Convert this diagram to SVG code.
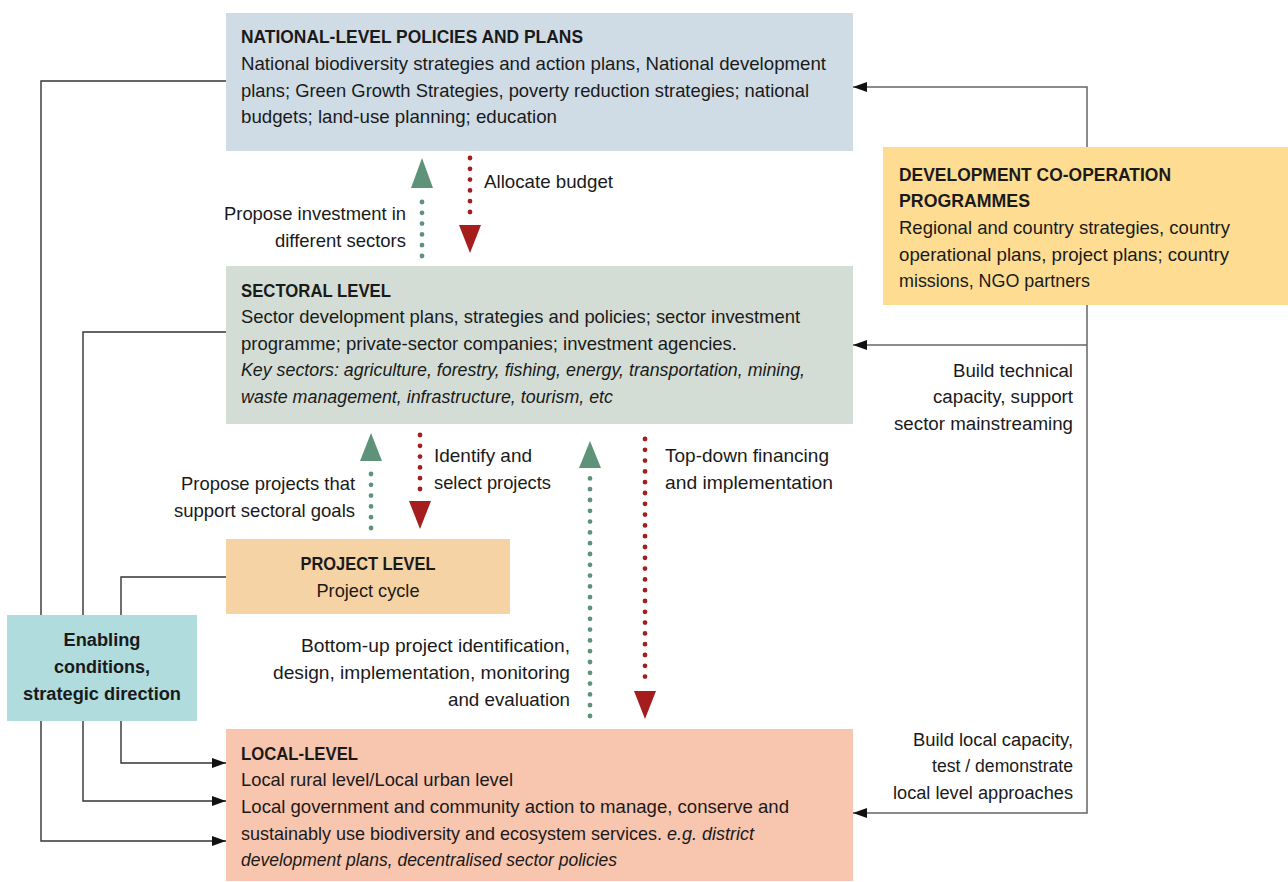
<svg xmlns="http://www.w3.org/2000/svg" width="1288" height="882" viewBox="0 0 1288 882">
<style>
text{font-family:"Liberation Sans Narrow","Liberation Sans",Arial,sans-serif;font-size:18.5px;fill:#1a1a1a}
.b{font-weight:bold}
.i{font-style:italic}
.r{font-family:"Liberation Sans",Arial,sans-serif;font-size:18px}
.e{text-anchor:end}
.m{text-anchor:middle}
.ln{fill:none;stroke:#333;stroke-width:1.4}
.lg{fill:none;stroke:#666;stroke-width:1.5}
.dg{stroke:#5e937a;stroke-width:4.8;stroke-linecap:round;stroke-dasharray:0 10.8}
.dr{stroke:#a51d1d;stroke-width:4.8;stroke-linecap:round;stroke-dasharray:0 10.8}
.hg{fill:#5e937a}
.hr{fill:#a51d1d}
</style>
<defs>
<marker id="ah" viewBox="0 0 14 10" refX="14" refY="5" markerWidth="14" markerHeight="10" markerUnits="userSpaceOnUse" orient="auto"><path d="M0,0 L14,5 L0,10 z" fill="#111"/></marker>
</defs>
<rect width="1288" height="882" fill="#fff"/>
<g id="connectors">
<path class="ln" d="M226,81 H41 V841 H226" marker-end="url(#ah)"/>
<path class="ln" d="M226,332 H83 V801 H226" marker-end="url(#ah)"/>
<path class="ln" d="M226,577 H121 V763 H226" marker-end="url(#ah)"/>
<path class="lg" d="M1087,147 V87 H853" marker-end="url(#ah)"/>
<path class="lg" d="M1087,305 V813 H853" marker-end="url(#ah)"/>
<path class="lg" d="M1087,345 H853" marker-end="url(#ah)"/>
<line class="dg" x1="422" y1="256" x2="422" y2="192"/>
<polygon class="hg" points="411,188 433,188 422,158"/>
<line class="dr" x1="470" y1="158" x2="470" y2="222"/>
<polygon class="hr" points="459,225 481,225 470,253"/>
<line class="dg" x1="371" y1="528" x2="371" y2="466"/>
<polygon class="hg" points="360,461 382,461 371,433"/>
<line class="dr" x1="420" y1="435" x2="420" y2="496"/>
<polygon class="hr" points="409,501 431,501 420,529"/>
<line class="dg" x1="590" y1="716" x2="590" y2="473"/>
<polygon class="hg" points="579,468 601,468 590,441"/>
<line class="dr" x1="645" y1="439" x2="645" y2="687"/>
<polygon class="hr" points="634,691 656,691 645,719"/>
<text x="484" y="188" textLength="129" lengthAdjust="spacingAndGlyphs">Allocate budget</text>
<text class="e" x="406" y="220" textLength="182" lengthAdjust="spacingAndGlyphs">Propose investment in</text>
<text class="e" x="406" y="247" textLength="131" lengthAdjust="spacingAndGlyphs">different sectors</text>
<text x="434" y="462" textLength="98" lengthAdjust="spacingAndGlyphs">Identify and</text>
<text x="434" y="489" textLength="117" lengthAdjust="spacingAndGlyphs">select projects</text>
<text class="e" x="355" y="490" textLength="174" lengthAdjust="spacingAndGlyphs">Propose projects that</text>
<text class="e" x="355" y="517" textLength="181" lengthAdjust="spacingAndGlyphs">support sectoral goals</text>
<text x="665" y="462" textLength="164" lengthAdjust="spacingAndGlyphs">Top-down financing</text>
<text x="665" y="489" textLength="168" lengthAdjust="spacingAndGlyphs">and implementation</text>
<text class="e" x="570" y="652" textLength="269" lengthAdjust="spacingAndGlyphs">Bottom-up project identification,</text>
<text class="e" x="570" y="679" textLength="297" lengthAdjust="spacingAndGlyphs">design, implementation, monitoring</text>
<text class="e" x="570" y="706" textLength="122" lengthAdjust="spacingAndGlyphs">and evaluation</text>
<text class="r e" x="1073" y="377" textLength="120" lengthAdjust="spacingAndGlyphs">Build technical</text>
<text class="r e" x="1073" y="403" textLength="140" lengthAdjust="spacingAndGlyphs">capacity, support</text>
<text class="r e" x="1073" y="430" textLength="179" lengthAdjust="spacingAndGlyphs">sector mainstreaming</text>
<text class="r e" x="1073" y="746" textLength="160" lengthAdjust="spacingAndGlyphs">Build local capacity,</text>
<text class="r e" x="1073" y="772" textLength="141" lengthAdjust="spacingAndGlyphs">test / demonstrate</text>
<text class="r e" x="1073" y="799" textLength="180" lengthAdjust="spacingAndGlyphs">local level approaches</text>
</g>
<g id="national">
<rect x="226" y="13" width="627" height="138" fill="#cfdce6"/>
<text class="b" x="241" y="43" textLength="342" lengthAdjust="spacingAndGlyphs">NATIONAL-LEVEL POLICIES AND PLANS</text>
<text x="241" y="70" textLength="585" lengthAdjust="spacingAndGlyphs">National biodiversity strategies and action plans, National development</text>
<text x="241" y="97" textLength="568" lengthAdjust="spacingAndGlyphs">plans; Green Growth Strategies, poverty reduction strategies; national</text>
<text x="241" y="123" textLength="316" lengthAdjust="spacingAndGlyphs">budgets; land-use planning; education</text>
</g>
<g id="development">
<rect x="883" y="147" width="405" height="158" fill="#fedd93"/>
<text class="b" x="899" y="181" textLength="272" lengthAdjust="spacingAndGlyphs">DEVELOPMENT CO-OPERATION</text>
<text class="b" x="899" y="207" textLength="131" lengthAdjust="spacingAndGlyphs">PROGRAMMES</text>
<text x="899" y="234" textLength="331" lengthAdjust="spacingAndGlyphs">Regional and country strategies, country</text>
<text x="899" y="261" textLength="330" lengthAdjust="spacingAndGlyphs">operational plans, project plans; country</text>
<text x="899" y="287" textLength="191" lengthAdjust="spacingAndGlyphs">missions, NGO partners</text>
</g>
<g id="sectoral">
<rect x="226" y="266" width="627" height="158" fill="#d3ddd5"/>
<text class="b" x="241" y="297" textLength="150" lengthAdjust="spacingAndGlyphs">SECTORAL LEVEL</text>
<text x="241" y="323" textLength="559" lengthAdjust="spacingAndGlyphs">Sector development plans, strategies and policies; sector investment</text>
<text x="241" y="350" textLength="496" lengthAdjust="spacingAndGlyphs">programme; private-sector companies; investment agencies.</text>
<text class="i" x="241" y="376" textLength="564" lengthAdjust="spacingAndGlyphs">Key sectors:  agriculture, forestry, fishing, energy, transportation, mining,</text>
<text class="i" x="241" y="403" textLength="372" lengthAdjust="spacingAndGlyphs">waste management, infrastructure, tourism, etc</text>
</g>
<g id="project">
<rect x="226" y="539" width="284" height="75" fill="#f5d3a4"/>
<text class="b m" x="368" y="570" textLength="135" lengthAdjust="spacingAndGlyphs">PROJECT LEVEL</text>
<text class="m" x="368" y="597" textLength="103" lengthAdjust="spacingAndGlyphs">Project cycle</text>
</g>
<g id="enabling">
<rect x="7" y="615" width="190" height="106" fill="#b0dcdd"/>
<text class="r b m" x="102" y="646" textLength="77" lengthAdjust="spacingAndGlyphs">Enabling</text>
<text class="r b m" x="102" y="673" textLength="96" lengthAdjust="spacingAndGlyphs">conditions,</text>
<text class="r b m" x="102" y="700" textLength="158" lengthAdjust="spacingAndGlyphs">strategic direction</text>
</g>
<g id="local">
<rect x="226" y="729" width="627" height="152" fill="#f8c5ae"/>
<text class="b" x="241" y="760" textLength="117" lengthAdjust="spacingAndGlyphs">LOCAL-LEVEL</text>
<text x="241" y="786" textLength="272" lengthAdjust="spacingAndGlyphs">Local rural level/Local urban level</text>
<text x="241" y="813" textLength="548" lengthAdjust="spacingAndGlyphs">Local government and community action to manage, conserve and</text>
<text x="241" y="840" textLength="421" lengthAdjust="spacingAndGlyphs">sustainably use biodiversity and ecosystem services.</text>
<text class="i" x="667" y="840" textLength="87" lengthAdjust="spacingAndGlyphs">e.g. district</text>
<text class="i" x="241" y="866" textLength="376" lengthAdjust="spacingAndGlyphs">development plans, decentralised sector policies</text>
</g>
</svg>
